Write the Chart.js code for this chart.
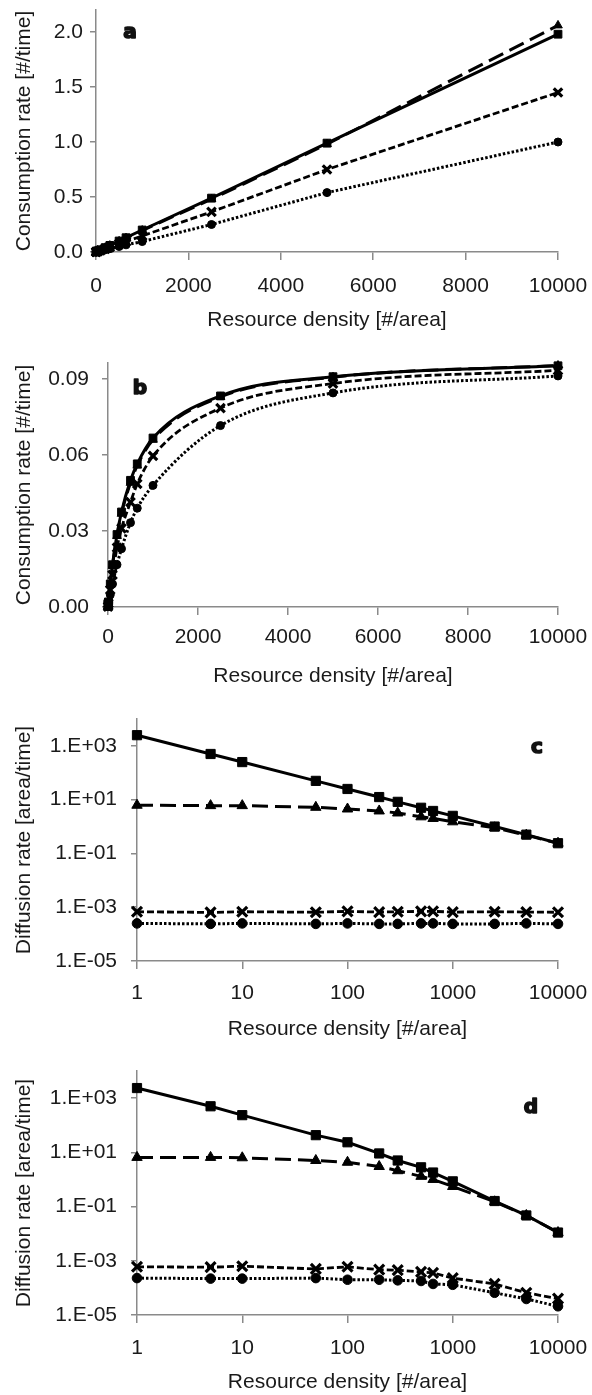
<!DOCTYPE html>
<html>
<head>
<meta charset="utf-8">
<script src="https://cdn.jsdelivr.net/npm/chart.js@4.4.0/dist/chart.umd.min.js"></script>
<style>
  html, body { margin: 0; padding: 0; background: #fff; }
  body { position: relative; width: 592px; height: 1395px; overflow: hidden; }
  .panel { position: absolute; left: 0; width: 592px; }
</style>
</head>
<body>
<div class="panel" style="top:0px;height:340px"><canvas id="chartA"></canvas></div>
<div class="panel" style="top:340px;height:360px"><canvas id="chartB"></canvas></div>
<div class="panel" style="top:700px;height:350px"><canvas id="chartC"></canvas></div>
<div class="panel" style="top:1040px;height:355px"><canvas id="chartD"></canvas></div>
<script>
// resource density (x) shared by all panels
const density = [1, 5, 10, 50, 100, 200, 300, 500, 650, 1000, 2500, 5000, 10000];

// a: consumption rate, linear response
const aSquare   = [0.0002, 0.001, 0.002, 0.01, 0.02, 0.04, 0.06, 0.10, 0.13, 0.20, 0.49, 0.99, 1.98];
const aTriangle = [0.0002, 0.001, 0.002, 0.01, 0.02, 0.039, 0.058, 0.097, 0.126, 0.195, 0.48, 0.98, 2.06];
const aCross    = [0.00015, 0.0007, 0.0015, 0.0073, 0.0146, 0.029, 0.044, 0.073, 0.095, 0.146, 0.365, 0.75, 1.45];
const aCircle   = [0.0001, 0.0005, 0.001, 0.005, 0.01, 0.02, 0.03, 0.05, 0.065, 0.095, 0.25, 0.54, 1.0];

// b: consumption rate, saturating
const bSquare   = [0.0002, 0.001, 0.002, 0.0091, 0.0167, 0.0286, 0.0375, 0.050, 0.0565, 0.0667, 0.0833, 0.0909, 0.0952];
const bTriangle = [0.0002, 0.001, 0.0019, 0.0089, 0.0163, 0.028, 0.0368, 0.049, 0.0558, 0.066, 0.0829, 0.0907, 0.0953];
const bCross    = [0.00015, 0.0007, 0.0014, 0.0068, 0.0127, 0.0234, 0.031, 0.0414, 0.0486, 0.0596, 0.0785, 0.0882, 0.0934];
const bCircle   = [0.0001, 0.0005, 0.001, 0.0048, 0.0091, 0.0167, 0.023, 0.0333, 0.039, 0.048, 0.0716, 0.0845, 0.0912];

// c: diffusion rate (log-log)
const cSquare   = [2500, 500, 250, 50, 25, 12.5, 8.3, 5, 3.8, 2.5, 1.0, 0.5, 0.24];
const cTriangle = [6.2, 6.0, 6.0, 5.2, 4.5, 3.8, 3.2, 2.3, 2.0, 1.5, 0.9, 0.48, 0.24];
const cCross    = [6.8e-4, 6.4e-4, 6.8e-4, 6.5e-4, 7.0e-4, 6.6e-4, 6.8e-4, 7.0e-4, 7.0e-4, 6.6e-4, 6.8e-4, 6.6e-4, 6.5e-4];
const cCircle   = [2.5e-4, 2.4e-4, 2.5e-4, 2.4e-4, 2.5e-4, 2.4e-4, 2.4e-4, 2.5e-4, 2.5e-4, 2.4e-4, 2.4e-4, 2.5e-4, 2.4e-4];

// d: diffusion rate (log-log)
const dSquare   = [2350, 500, 235, 43, 23.5, 9.1, 5, 2.8, 1.8, 0.85, 0.16, 0.047, 0.011];
const dTriangle = [6.5, 6.5, 6.3, 5.0, 4.3, 3.0, 2.1, 1.3, 1.0, 0.55, 0.15, 0.047, 0.011];
const dCross    = [6.0e-4, 5.8e-4, 6.3e-4, 5.0e-4, 6.0e-4, 4.7e-4, 4.5e-4, 3.9e-4, 3.6e-4, 2.3e-4, 1.4e-4, 6.6e-5, 4.0e-5];
const dCircle   = [2.3e-4, 2.2e-4, 2.2e-4, 2.3e-4, 2.0e-4, 2.0e-4, 1.9e-4, 1.8e-4, 1.4e-4, 1.3e-4, 6.6e-5, 3.9e-5, 2.1e-5];

// tick labels
const linearXTicks = [0, 2000, 4000, 6000, 8000, 10000];
const aYTicks = [0, 0.5, 1.0, 1.5, 2.0];
const bYTicks = [0, 0.03, 0.06, 0.09];
const logXTicks = [1, 10, 100, 1000, 10000];
const logYTicks = [1e-5, 1e-3, 1e-1, 1e1, 1e3];

const FONT = "'Liberation Sans', Arial, sans-serif";
const AXIS = '#8a8a8a';
const INK = '#1a1a1a';

function series(values) {
  return values.map((v, i) => ({ x: density[i], y: v }));
}

function datasets(rows, big, smooth) {
  const looks = [
    { style: 'rect',     dash: [],       width: 3,   r: big ? 6.5 : 5.5 },
    { style: 'triangle', dash: [16, 7],  width: 3,   r: big ? 6 : 5 },
    { style: 'crossRot', dash: [7, 3],   width: 2.8, r: big ? 7 : 6 },
    { style: 'circle',   dash: [2.5, 2], width: 3,   r: big ? 4.8 : 4 },
  ];
  return rows.map((vals, i) => ({
    data: series(vals),
    borderColor: '#000',
    backgroundColor: '#000',
    borderWidth: looks[i].width,
    borderDash: looks[i].dash,
    pointStyle: looks[i].style,
    pointRadius: looks[i].r,
    pointBorderWidth: i === 2 ? 3.2 : 1,
    pointBorderColor: '#000',
    pointBackgroundColor: '#000',
    cubicInterpolationMode: smooth ? 'monotone' : 'default',
    tension: 0,
    clip: false,
  }));
}

function expLabel(v) {
  const e = Math.round(Math.log10(v));
  return '1.E' + (e < 0 ? '-' : '+') + String(Math.abs(e)).padStart(2, '0');
}

function axis(o) {
  return {
    type: o.type, min: o.min, max: o.max,
    afterBuildTicks: s => { s.ticks = o.ticks.map(v => ({ value: v })); },
    afterFit: s => {
      if (o.vertical) s.width = o.size; else s.height = o.size;
      s.paddingTop = 0; s.paddingBottom = 0; s.paddingLeft = 0; s.paddingRight = 0;
    },
    grid: { drawOnChartArea: false, drawTicks: true, tickLength: o.vertical ? 6 : 8, color: AXIS, lineWidth: 1.5 },
    border: { display: true, color: AXIS, width: 1.5 },
    ticks: {
      color: INK, font: { family: FONT, size: 21, lineHeight: 1.2 },
      padding: o.tickPad, callback: o.fmt, maxRotation: 0, autoSkip: false,
    },
    title: {
      display: true, text: o.title, color: INK,
      font: { family: FONT, size: 21, lineHeight: 1.2 },
      padding: o.vertical ? { top: o.titlePad, bottom: 0 } : { top: 0, bottom: o.titlePad },
    },
  };
}

// bold panel letter (a, b, c, d)
const panelLabel = {
  id: 'panelLabel',
  afterDraw(chart, args, opts) {
    const ctx = chart.ctx;
    ctx.save();
    ctx.font = "bold 20px 'DejaVu Sans', sans-serif";
    ctx.fillStyle = '#111';
    ctx.strokeStyle = '#111';
    ctx.lineWidth = 1.6;
    ctx.lineJoin = 'round';
    ctx.textAlign = 'center';
    ctx.textBaseline = 'alphabetic';
    ctx.strokeText(opts.text, opts.x, opts.y);
    ctx.fillText(opts.text, opts.x, opts.y);
    ctx.restore();
  }
};

function makeChart(id, cfg) {
  return new Chart(document.getElementById(id), {
    type: 'line',
    data: { datasets: cfg.datasets },
    options: {
      responsive: true,
      maintainAspectRatio: false,
      animation: false,
      layout: { padding: { top: cfg.top, right: 34, left: 0, bottom: 0 } },
      plugins: {
        legend: { display: false },
        tooltip: { enabled: false },
        panelLabel: cfg.label,
      },
      scales: { x: cfg.x, y: cfg.y },
    },
    plugins: [panelLabel],
  });
}

const xTitle = 'Resource density [#/area]';

makeChart('chartA', {
  top: 10,
  datasets: datasets([aSquare, aTriangle, aCross, aCircle], false, false),
  label: { text: 'a', x: 130, y: 38 },
  x: axis({ type: 'linear', min: 0, max: 10000, ticks: linearXTicks, fmt: v => String(v),
            title: xTitle, size: 88, tickPad: 14, titlePad: 7 }),
  y: axis({ type: 'linear', min: 0, max: 2.2, ticks: aYTicks, fmt: v => v.toFixed(1), vertical: true,
            title: 'Consumption rate [#/time]', size: 96, tickPad: 7, titlePad: 12 }),
});

makeChart('chartB', {
  top: 23,
  datasets: datasets([bSquare, bTriangle, bCross, bCircle], false, true),
  label: { text: 'b', x: 140, y: 54 },
  x: axis({ type: 'linear', min: 0, max: 10000, ticks: linearXTicks, fmt: v => String(v),
            title: xTitle, size: 93, tickPad: 10, titlePad: 11 }),
  y: axis({ type: 'linear', min: 0, max: 0.0963, ticks: bYTicks, fmt: v => v.toFixed(2), vertical: true,
            title: 'Consumption rate [#/time]', size: 108, tickPad: 13, titlePad: 12 }),
});

makeChart('chartC', {
  top: 19,
  datasets: datasets([cSquare, cTriangle, cCross, cCircle], true, false),
  label: { text: 'c', x: 537, y: 53 },
  x: axis({ type: 'logarithmic', min: 1, max: 10000, ticks: logXTicks, fmt: v => String(v),
            title: xTitle, size: 89, tickPad: 12, titlePad: 8 }),
  y: axis({ type: 'logarithmic', min: 1e-5, max: 1e4, ticks: logYTicks, fmt: expLabel, vertical: true,
            title: 'Diffusion rate [area/time]', size: 137, tickPad: 14, titlePad: 12 }),
});

makeChart('chartD', {
  top: 31,
  datasets: datasets([dSquare, dTriangle, dCross, dCircle], true, false),
  label: { text: 'd', x: 531, y: 73 },
  x: axis({ type: 'logarithmic', min: 1, max: 10000, ticks: logXTicks, fmt: v => String(v),
            title: xTitle, size: 80, tickPad: 13, titlePad: 0 }),
  y: axis({ type: 'logarithmic', min: 1e-5, max: 1e4, ticks: logYTicks, fmt: expLabel, vertical: true,
            title: 'Diffusion rate [area/time]', size: 137, tickPad: 14, titlePad: 12 }),
});
</script>
</body>
</html>
